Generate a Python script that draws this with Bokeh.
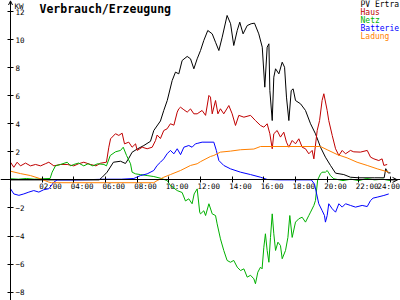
from bokeh.plotting import figure
from bokeh.models import (Range1d, LinearAxis, FixedTicker, CustomJSTickFormatter,
                          Label, Arrow, OpenHead)
from bokeh.core.properties import value
from bokeh.embed import file_html
from bokeh.resources import INLINE

# ---------------- data (hours, kW) ----------------
pv_t = [0, 5.6, 5.8, 6.1, 6.5, 6.95, 7.26, 7.45, 7.68, 8.0, 8.42, 8.84, 9.05, 9.47, 9.68, 9.9,
        10.21, 10.42, 10.63, 10.84, 11.16, 11.37, 11.58, 11.79, 12.0, 12.21, 12.46, 12.74, 12.95,
        13.16, 13.37, 13.68, 13.9, 14.1, 14.32, 14.48, 14.69, 14.95, 15.2, 15.41, 15.68, 15.9,
        16.06, 16.21, 16.32, 16.38, 16.53, 16.63, 16.74, 16.95, 17.16, 17.31, 17.43, 17.58, 17.73,
        17.85, 18.0, 18.32, 18.63, 18.95, 19.26, 19.58, 19.89, 20.21, 20.53, 21.05, 21.47, 22.0,
        23.0, 23.6, 23.7, 23.85, 24.0]
pv_kw = [0, 0, 0.2, 0.55, 1.26, 1.33, 1.17, 1.5, 1.97, 2.2, 2.45, 2.75, 3.52, 4.2, 4.95, 5.66,
         7.08, 7.68, 7.56, 8.51, 8.8, 8.63, 7.92, 8.63, 9.22, 9.94, 10.65, 10.41, 9.81,
         9.22, 10.17, 11.72, 11.13, 9.58, 10.65, 11.24, 10.41, 11.0, 11.13, 11.17, 10.41, 9.46,
         6.61, 9.46, 9.7, 6.37, 4.23, 7.32, 7.92, 7.56, 8.39, 8.03, 5.9, 4.23, 6.37,
         6.49, 5.66, 5.42, 4.95, 4.0, 3.29, 2.33, 1.62, 1.03, 0.48, 0.38, 0.19, 0.15,
         0.15, 0.15, 0.8, 0.5, 0.5]

haus_t = [0, 0.21, 0.42, 0.63, 0.95, 1.26, 1.58, 1.9, 2.2, 2.42, 2.74, 3.16, 3.58, 4.0, 4.3, 4.63,
          5.05, 5.4, 5.68, 6.06, 6.21, 6.32, 6.63, 6.84, 7.05, 7.2, 7.47, 7.68, 7.9, 8.0, 8.32,
          8.63, 8.95, 9.16, 9.26, 9.47, 9.68, 9.89, 10.1, 10.32, 10.53, 10.63, 10.74, 10.95, 11.16,
          11.37, 11.58, 11.79, 12.1, 12.32, 12.53, 12.63, 12.74, 12.95, 13.1, 13.26, 13.47, 13.79,
          14.0, 14.21, 14.42, 14.74, 15.16, 15.47, 15.79, 16.0, 16.21, 16.38, 16.53, 16.63, 16.84,
          17.05, 17.26, 17.43, 17.58, 17.79, 18.0, 18.21, 18.42, 18.63, 18.84, 19.05, 19.16, 19.37,
          19.52, 19.68, 19.79, 20.0, 20.1, 20.32, 20.53, 20.74, 20.95, 21.16, 21.47, 21.68, 22.1,
          22.53, 22.74, 22.95, 23.26, 23.47, 23.58, 23.79]
haus_kw = [1.26, 0.9, 1.26, 1.0, 1.2, 1.0, 1.1, 1.0, 1.15, 1.26, 1.0, 1.1, 1.1, 1.0, 1.15, 1.26,
           1.1, 1.0, 1.19, 1.26, 2.33, 2.93, 3.29, 3.17, 3.33, 2.57, 2.69, 2.33, 2.57, 2.1, 2.33,
           2.22, 2.33, 2.81, 3.2, 2.95, 3.52, 3.64, 4.0, 3.9, 4.83, 5.07, 5.18, 5.0, 4.83,
           5.06, 4.71, 4.71, 4.95, 4.6, 6.02, 5.9, 4.71, 5.66, 4.71, 5.07, 4.71, 5.3,
           4.71, 3.88, 4.6, 4.47, 4.6, 4.23, 3.88, 3.76, 4.0, 3.29, 2.22, 3.29, 3.52,
           3.05, 3.4, 2.69, 2.33, 2.81, 2.57, 2.93, 2.33, 2.22, 1.86, 2.1, 1.5, 3.52,
           4.23, 5.66, 6.14, 4.95, 4.23, 3.17, 2.22, 1.74, 2.1, 1.86, 2.1, 2.0, 1.98,
           2.1, 1.62, 1.5, 1.38, 1.5, 1.03, 1.1]

netz_t = [0, 0.5, 1.0, 1.5, 2.0, 2.5, 2.63, 2.84, 3.16, 3.58, 3.8, 4.0, 4.3, 4.63, 4.9, 5.2, 5.5,
          5.9, 6.06, 6.3, 6.63, 6.95, 7.12, 7.33, 7.58, 7.68, 7.9, 8.2, 8.63, 9.05, 9.47, 9.9,
          10.1, 10.53, 10.84, 11.05, 11.26, 11.47, 11.6, 11.79, 11.95, 12.0, 12.21, 12.32, 12.53,
          12.74, 12.95, 13.05, 13.26, 13.47, 13.68, 13.89, 14.1, 14.32, 14.53, 14.74, 14.95, 15.16,
          15.37, 15.47, 15.62, 15.79, 15.89, 16.0, 16.1, 16.21, 16.32, 16.42, 16.53, 16.63, 16.74,
          16.89, 17.05, 17.16, 17.37, 17.52, 17.64, 17.79, 18.0, 18.21, 18.42, 18.63, 18.84, 18.95,
          19.16, 19.26, 19.4, 19.58, 19.68, 19.89, 20.0, 20.1, 20.2, 20.42, 21.0, 21.5, 22.0,
          22.5, 23.0, 23.5, 24.0]
netz_kw = [0.08, 0.05, 0.1, 0.05, 0.08, 0.1, 0.55, 1.0, 1.1, 1.26, 1.0, 1.1, 1.2, 1.0, 1.15, 1.0,
           1.15, 1.1, 1.0, 1.74, 2.0, 2.1, 2.33, 1.74, 1.15, 0.55, 0.43, 0.38, 0.31, 0.24, 0.12,
           -0.05, -0.4, -0.76, -0.9, -1.5, -1.35, -1.7, -1.0, -0.64, -2.3, -2.42, -2.2, -2.54,
           -1.7, -2.42, -2.54, -3.13, -4.2, -5.03, -5.74, -5.87, -5.74, -6.22, -6.46, -6.34,
           -6.93, -6.8, -7.05, -7.4, -6.58, -6.22, -6.34, -4.8, -3.84, -5.03, -5.87, -4.1, -2.42,
           -3.84, -5.03, -4.44, -4.68, -5.62, -5.03, -4.1, -2.54, -4.1, -3.01, -2.77, -2.66,
           -3.01, -2.54, -2.3, -1.82, -1.47, 0.0, 0.43, 0.55, 0.55, 0.67, 0.5, 0.31, 0.08,
           -0.05, 0.05, -0.05, 0.1, 0.0, 0.05, -0.05]

batt_t = [0, 0.21, 0.53, 0.84, 1.16, 1.47, 1.79, 2.1, 2.42, 2.74, 2.95, 4.0, 5.0, 6.0, 7.0, 7.79,
          8.21, 8.63, 9.05, 9.26, 9.47, 9.68, 9.89, 10.1, 10.32, 10.53, 10.74, 10.95, 11.26, 11.47,
          11.68, 11.79, 12.1, 12.84, 13.0, 13.16, 13.47, 13.89, 14.53, 15.16, 15.79, 16.21, 17.0,
          18.0, 19.0, 19.2, 19.47, 19.68, 19.83, 19.89, 20.0, 20.1, 20.32, 20.53, 20.74, 20.95,
          21.16, 21.47, 21.79, 22.21, 22.53, 22.74, 22.9, 23.16, 23.58, 23.89]
batt_kw = [-0.63, -1.0, -1.1, -1.0, -0.87, -0.76, -0.87, -0.7, -0.63, -0.16, 0.0, 0.0, 0.02, 0.05,
           0.05, 0.1, 0.31, 0.43, 0.67, 1.03, 1.26, 1.5, 1.86, 2.1, 1.86, 2.22, 1.8, 2.33, 2.45,
           2.33, 2.57, 2.6, 2.69, 2.69, 2.1, 1.38, 1.03, 0.79, 0.55, 0.38, 0.19, 0.03, 0.0,
           0.0, 0.0, -0.3, -1.7, -2.18, -2.54, -3.01, -2.54, -1.7, -2.06, -2.3, -1.7, -1.94,
           -1.7, -1.82, -1.94, -1.82, -1.9, -1.47, -1.3, -1.23, -1.11, -1.0]

lad_t = [0, 0.63, 1.26, 1.9, 2.42, 2.6, 9.05, 9.26, 9.68, 10.1, 10.74, 11.37, 11.79, 12.0, 12.63,
         12.84, 13.26, 13.89, 14.53, 15.37, 15.79, 19.58, 20.0, 20.63, 21.26, 21.89, 22.53, 23.16,
         23.89]
lad_kw = [0.62, 0.45, 0.31, 0.08, -0.16, -0.2, -0.2, -0.05, 0.19, 0.38, 0.67, 1.03, 1.15, 1.3,
          1.67, 1.74, 1.98, 2.05, 2.15, 2.2, 2.38, 2.38, 2.15, 1.81, 1.57, 1.26, 1.03, 0.79, 0.55]

series_names = ["PV Ertra", "Haus", "Netz", "Batterie", "Ladung"]
series_colors = ["#000000", "#c00000", "#00b000", "#0000ff", "#ff8000"]
x_ticks = [2, 4, 6, 8, 10, 12, 14, 16, 18, 20, 22, 24]
x_tick_labels = ["02:00", "04:00", "06:00", "08:00", "10:00", "12:00",
                 "14:00", "16:00", "18:00", "20:00", "22:00", "24:00"]
y_ticks = [-8, -6, -4, -2, 2, 4, 6, 8, 10, 12]
title_text = "Verbrauch/Erzeugung"
unit_text = "KW"

# ---------------- layout ----------------
W, H = 400, 300
X0_PX, X24_PX = 10.0, 390.0
Y0_PX, KW_PX = 179.4, 14.03
px_per_h = (X24_PX - X0_PX) / 24.0

FONT = "DejaVu Sans Mono"
TICK_FS = 7.5          # px
LEG_FS = "8px"

p = figure(width=W, height=H, output_backend="svg", toolbar_location=None,
           x_range=Range1d(-X0_PX / px_per_h, (W - X0_PX) / px_per_h),
           y_range=Range1d(-(H - Y0_PX) / KW_PX, Y0_PX / KW_PX),
           x_axis_location=None, y_axis_location=None,
           min_border=0, min_border_left=0, min_border_right=0,
           min_border_top=0, min_border_bottom=0,
           outline_line_color=None, background_fill_color="white",
           border_fill_color="white")
p.grid.visible = False

# x axis: line + ticks at y = 0 (labels are printed beside the ticks below)
xaxis = LinearAxis(fixed_location=0, ticker=FixedTicker(ticks=x_ticks, minor_ticks=[]),
                   formatter=CustomJSTickFormatter(code="return ''"),
                   major_tick_in=3, major_tick_out=3, minor_tick_in=0, minor_tick_out=0,
                   axis_line_color="black", major_tick_line_color="black")
p.add_layout(xaxis, "below")

# y axis at x = 0 with labels to its right
yaxis = LinearAxis(fixed_location=0, ticker=FixedTicker(ticks=y_ticks, minor_ticks=[]),
                   major_tick_in=3, major_tick_out=3, minor_tick_in=0, minor_tick_out=0,
                   major_label_standoff=2,
                   major_label_text_font=FONT, major_label_text_font_size=f"{TICK_FS}px",
                   major_label_text_color="black",
                   axis_line_color="black", major_tick_line_color="black")
p.add_layout(yaxis, "right")

# axis arrow heads
p.add_layout(Arrow(end=OpenHead(size=4, line_width=1, line_color="black"),
                   x_start=X0_PX, y_start=H - 6, x_end=X0_PX, y_end=H - 0.5,
                   start_units="screen", end_units="screen", line_color="black"))
p.add_layout(Arrow(end=OpenHead(size=5, line_width=1, line_color="black"),
                   x_start=W - 10, y_start=H - Y0_PX, x_end=W - 3, y_end=H - Y0_PX,
                   start_units="screen", end_units="screen", line_color="black"))

# x tick labels: start just left of each tick; the last one is kept inside the plot
x_offsets = []
for t, lbl in zip(x_ticks, x_tick_labels):
    tick_px = X0_PX + t * px_per_h
    w = len(lbl) * 0.602 * TICK_FS
    left = tick_px - 3
    if left + w > W - 0.5:
        left = W - 0.5 - w
    x_offsets.append(left - tick_px)
p.text(x=x_ticks, y=[0] * len(x_ticks), text=x_tick_labels,
       text_font=value(FONT), text_font_size=f"{TICK_FS}px", text_color="black",
       text_align="left", text_baseline="top", x_offset=x_offsets, y_offset=2.5)

# data lines
series = [(pv_t, pv_kw), (haus_t, haus_kw), (netz_t, netz_kw), (batt_t, batt_kw), (lad_t, lad_kw)]
for (t, v), c in zip(series, series_colors):
    p.line(t, v, line_color=c, line_width=1)

# title and unit
p.add_layout(Label(x=39, y=H - 1, x_units="screen", y_units="screen", text=title_text,
                   text_font=FONT, text_font_style="bold", text_font_size="11.5px",
                   text_baseline="top", text_align="left", text_color="black"))
p.add_layout(Label(x=14, y=H - 1, x_units="screen", y_units="screen", text=unit_text,
                   text_font=FONT, text_font_size="7.5px",
                   text_baseline="top", text_align="left", text_color="black"))

# legend (coloured names, top right)
for i, (name, c) in enumerate(zip(series_names, series_colors)):
    p.add_layout(Label(x=360, y=H - 4 - 8 * i, x_units="screen", y_units="screen", text=name,
                       text_font=FONT, text_font_size=LEG_FS, text_baseline="middle",
                       text_align="left", text_color=c))

open("out.html", "w").write(file_html(p, INLINE))
